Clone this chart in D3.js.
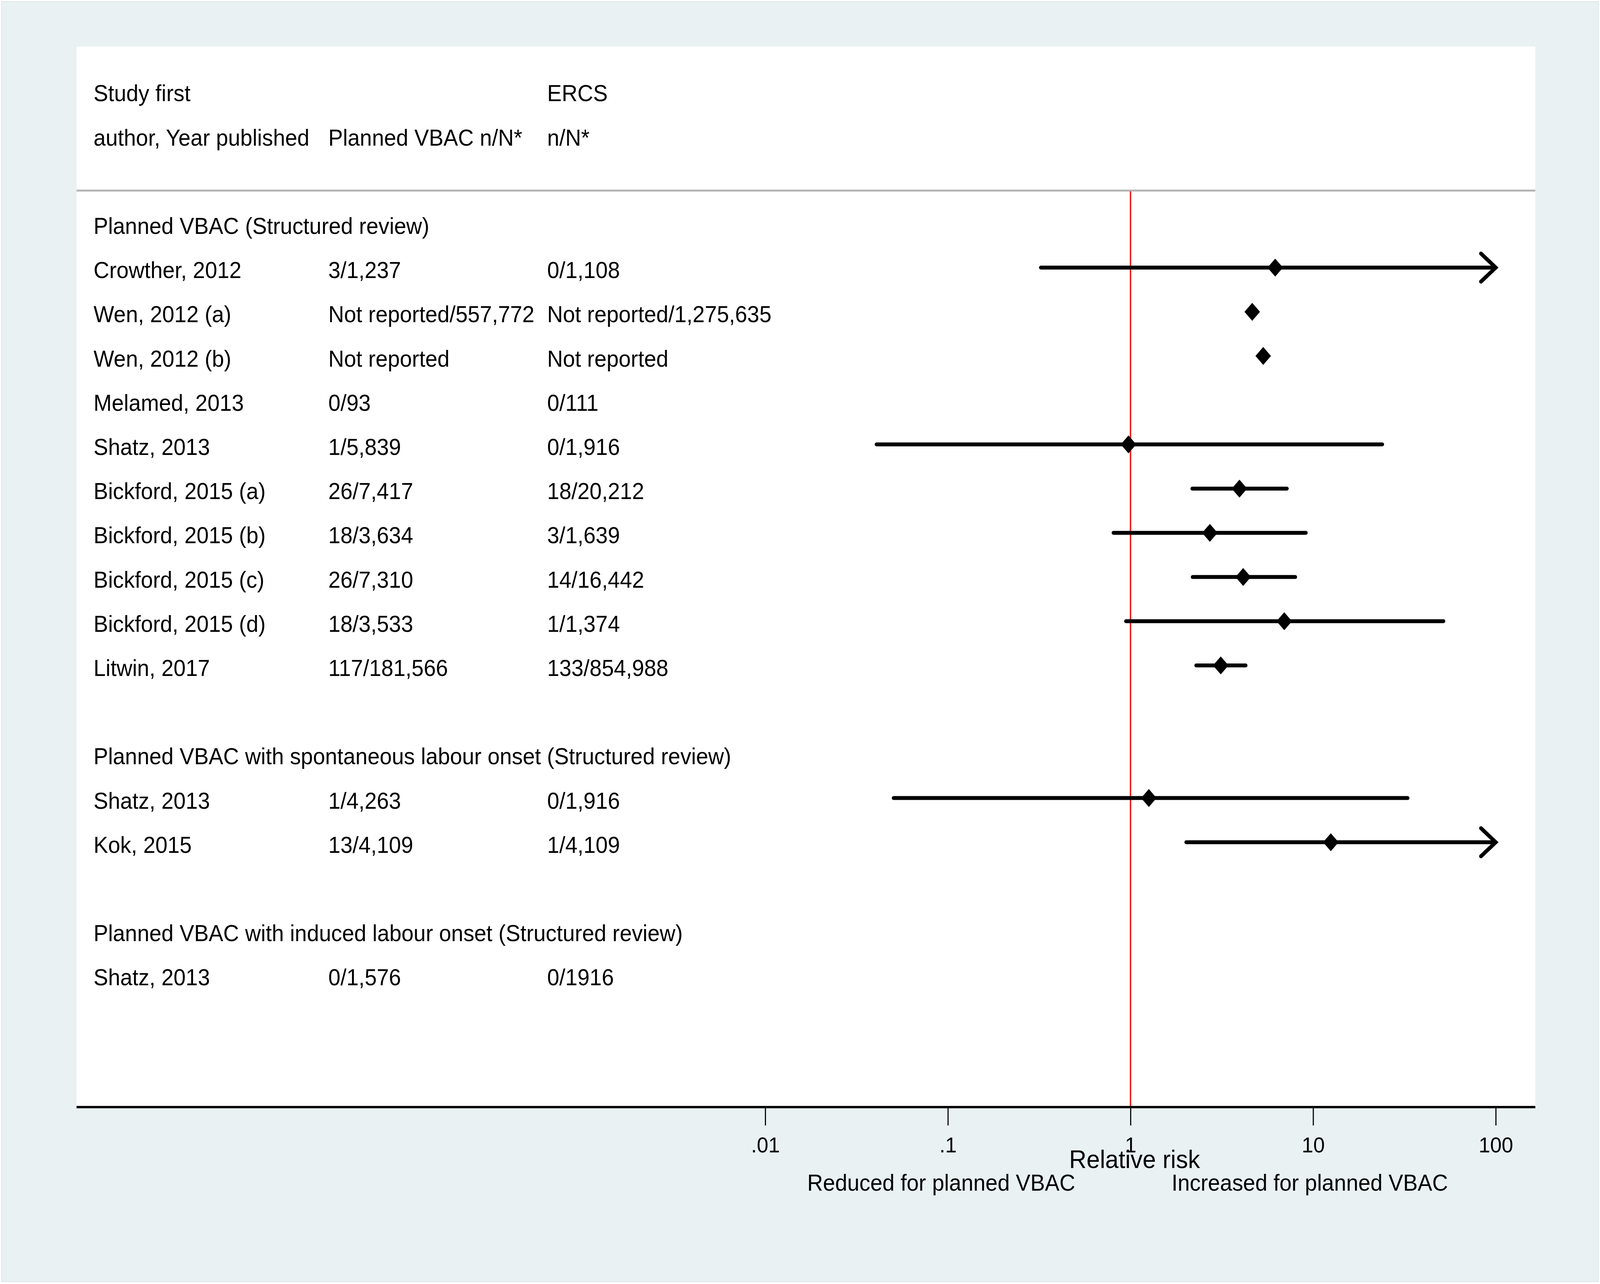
<!DOCTYPE html>
<html>
<head>
<meta charset="utf-8">
<script src="https://cdn.jsdelivr.net/npm/d3@7"></script>
<style>
  html, body { margin: 0; padding: 0; background: #ffffff; overflow: hidden; }
  #chart { display: block; width: 100vw; height: 100vh; }
  text { font-family: "Liberation Sans", Arial, Helvetica, sans-serif; fill: #000; }
</style>
</head>
<body>
<svg id="chart" viewBox="0 0 4328 3288" preserveAspectRatio="none"></svg>
<script>
// column headers, two lines
var headLine1 = ["Study first", "", "ERCS"]
var headLine2 = ["author, Year published", "Planned VBAC n/N*", "n/N*"]

var sectionTitles = ["Planned VBAC (Structured review)",
                     "Planned VBAC with spontaneous labour onset (Structured review)",
                     "Planned VBAC with induced labour onset (Structured review)"]
var sectionRow = [0, 12, 16]

var studies = ["Crowther, 2012", "Wen, 2012 (a)", "Wen, 2012 (b)", "Melamed, 2013", "Shatz, 2013",
               "Bickford, 2015 (a)", "Bickford, 2015 (b)", "Bickford, 2015 (c)", "Bickford, 2015 (d)",
               "Litwin, 2017", "Shatz, 2013", "Kok, 2015", "Shatz, 2013"]
var studyRow = [1, 2, 3, 4, 5, 6, 7, 8, 9, 10, 13, 14, 17]
var vbacN = ["3/1,237", "Not reported/557,772", "Not reported", "0/93", "1/5,839",
             "26/7,417", "18/3,634", "26/7,310", "18/3,533", "117/181,566",
             "1/4,263", "13/4,109", "0/1,576"]
var ercsN = ["0/1,108", "Not reported/1,275,635", "Not reported", "0/111", "0/1,916",
             "18/20,212", "3/1,639", "14/16,442", "1/1,374", "133/854,988",
             "0/1,916", "1/4,109", "0/1916"]
var rr     = [6.2, 4.64, 5.33, null, 0.975, 3.95, 2.72, 4.14, 6.95, 3.12, 1.26, 12.5, null]
var ciLow  = [0.323, null, null, null, 0.0407, 2.18, 0.807, 2.19, 0.945, 2.29, 0.0505, 2.02, null]
var ciHigh = [120, null, null, null, 23.9, 7.18, 9.12, 7.98, 51.7, 4.27, 32.9, 150, null]

var tickVals = [0.01, 0.1, 1, 10, 100]
var tickText = [".01", ".1", "1", "10", "100"]

function drawForest() {
    var svg = d3.select("#chart")

    var panelLeft = 207, panelRight = 4153, panelTop = 119, axisY = 2835, ruleY = 488
    var colX = [253, 888, 1480]
    var fs = 59

    var x = d3.scaleLog().domain([0.01, 100]).range([2070, 4046])
    var y = d3.scaleLinear().domain([0, 17]).range([572, 572 + 113.2 * 17])
    var baseOff = 27
    var xMax = x.domain()[1]

    // background and plot panel
    svg.append("rect")
	.attr("x", 4).attr("y", 4)
	.attr("width", 4320).attr("height", 3278)
	.attr("fill", "#e9f1f2")
	.attr("stroke", "#dfe7e8")
	.attr("stroke-width", 2)

    svg.append("rect")
	.attr("x", panelLeft).attr("y", panelTop)
	.attr("width", panelRight - panelLeft)
	.attr("height", axisY - panelTop)
	.attr("fill", "#ffffff")

    svg.append("line")
	.attr("x1", panelLeft).attr("x2", panelRight)
	.attr("y1", ruleY).attr("y2", ruleY)
	.attr("stroke", "#b4b4b4")
	.attr("stroke-width", 5)

    // header text
    var head = svg.append("g").attr("font-size", fs + "px")
    head.selectAll("text.h1")
	.data(headLine1)
	.enter()
	.append("text")
	.attr("class", "h1")
	.attr("x", function(d, i){ return colX[i] })
	.attr("y", y(-3) + baseOff)
	.text(function(d){ return d })
    head.selectAll("text.h2")
	.data(headLine2)
	.enter()
	.append("text")
	.attr("class", "h2")
	.attr("x", function(d, i){ return colX[i] })
	.attr("y", y(-2) + baseOff)
	.text(function(d){ return d })

    // section titles
    svg.append("g").attr("font-size", fs + "px")
	.selectAll("text")
	.data(sectionTitles)
	.enter()
	.append("text")
	.attr("x", colX[0])
	.attr("y", function(d, i){ return y(sectionRow[i]) + baseOff })
	.text(function(d){ return d })

    // study rows
    var rows = svg.append("g").attr("font-size", fs + "px")
	.selectAll("g")
	.data(d3.range(studies.length))
	.enter()
	.append("g")

    rows.append("text")
	.attr("x", colX[0])
	.attr("y", function(i){ return y(studyRow[i]) + baseOff })
	.text(function(i){ return studies[i] })
    rows.append("text")
	.attr("x", colX[1])
	.attr("y", function(i){ return y(studyRow[i]) + baseOff })
	.text(function(i){ return vbacN[i] })
    rows.append("text")
	.attr("x", colX[2])
	.attr("y", function(i){ return y(studyRow[i]) + baseOff })
	.text(function(i){ return ercsN[i] })

    // reference line at RR = 1
    svg.append("line")
	.attr("x1", x(1)).attr("x2", x(1))
	.attr("y1", ruleY + 2).attr("y2", axisY)
	.attr("stroke", "#e8231d")
	.attr("stroke-width", 4)

    // confidence intervals
    var ci = d3.range(studies.length).filter(function(i){ return ciLow[i] != null })
    var marks = svg.append("g")

    marks.selectAll("line.ci")
	.data(ci)
	.enter()
	.append("line")
	.attr("class", "ci")
	.attr("x1", function(i){ return x(ciLow[i]) })
	.attr("x2", function(i){ return x(Math.min(ciHigh[i], xMax)) })
	.attr("y1", function(i){ return y(studyRow[i]) })
	.attr("y2", function(i){ return y(studyRow[i]) })
	.attr("stroke", "#000")
	.attr("stroke-width", 10)
	.attr("stroke-linecap", "round")

    // arrow where the interval runs past the axis
    marks.selectAll("path.arrow")
	.data(ci.filter(function(i){ return ciHigh[i] > xMax }))
	.enter()
	.append("path")
	.attr("class", "arrow")
	.attr("d", function(i){
	    var p = d3.path(), ax = x(xMax), ay = y(studyRow[i])
	    p.moveTo(ax - 40, ay - 36)
	    p.lineTo(ax, ay)
	    p.lineTo(ax - 40, ay + 36)
	    return p.toString()
	})
	.attr("fill", "none")
	.attr("stroke", "#000")
	.attr("stroke-width", 10)
	.attr("stroke-linecap", "round")
	.attr("stroke-linejoin", "miter")

    // point estimates as diamonds
    marks.selectAll("path.pt")
	.data(d3.range(studies.length).filter(function(i){ return rr[i] != null }))
	.enter()
	.append("path")
	.attr("class", "pt")
	.attr("d", "M0,-23L21,0L0,23L-21,0Z")
	.attr("transform", function(i){ return "translate(" + x(rr[i]) + "," + y(studyRow[i]) + ")" })
	.attr("fill", "#000")

    // x axis
    var axis = svg.append("g")
	.attr("transform", "translate(0," + axisY + ")")
	.call(d3.axisBottom(x)
	      .tickValues(tickVals)
	      .tickFormat(function(d, i){ return tickText[i] })
	      .tickSize(47)
	      .tickPadding(29)
	      .tickSizeOuter(0))
    axis.select(".domain").remove()
    axis.selectAll(".tick line").attr("stroke", "#000").attr("stroke-width", 3)
    axis.selectAll(".tick text")
	.attr("font-family", "\"Liberation Sans\", Arial, sans-serif")
	.attr("font-size", "56px")
	.attr("fill", "#000")

    svg.append("line")
	.attr("x1", panelLeft).attr("x2", panelRight)
	.attr("y1", axisY).attr("y2", axisY)
	.attr("stroke", "#000")
	.attr("stroke-width", 6)

    svg.append("text")
	.attr("x", 3069)
	.attr("y", 2991)
	.attr("text-anchor", "middle")
	.attr("font-size", "65px")
	.text("Relative risk")

    svg.append("text")
	.attr("x", 2546)
	.attr("y", 3049)
	.attr("text-anchor", "middle")
	.attr("font-size", fs + "px")
	.text("Reduced for planned VBAC")

    svg.append("text")
	.attr("x", 3543)
	.attr("y", 3049)
	.attr("text-anchor", "middle")
	.attr("font-size", fs + "px")
	.text("Increased for planned VBAC")
}

drawForest()
</script>
</body>
</html>
